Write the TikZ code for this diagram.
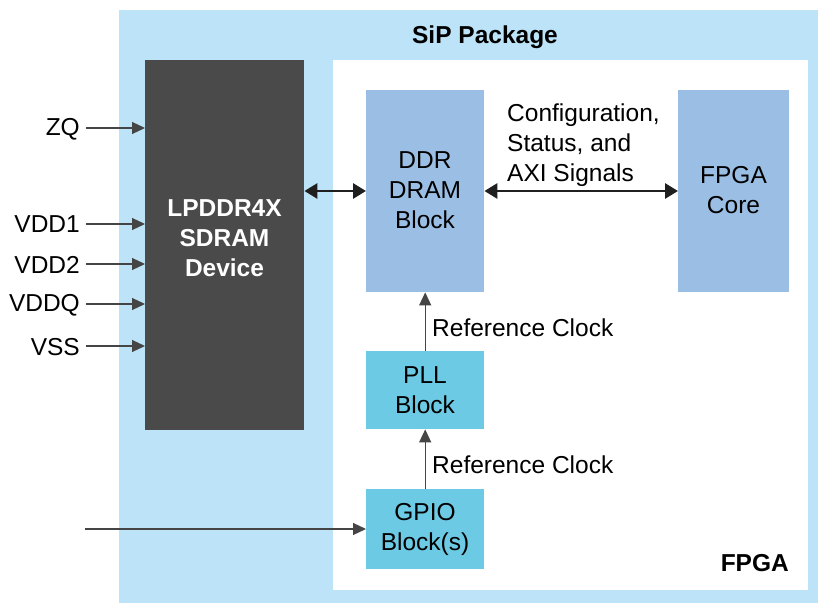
\documentclass[tikz,border=0pt]{standalone}
\usepackage{fontspec}
\setmainfont{Liberation Sans}
\usetikzlibrary{arrows.meta}
\definecolor{sipblue}{HTML}{BDE3F8}
\definecolor{darkblk}{HTML}{4A4A4A}
\definecolor{ddrblue}{HTML}{9BBFE4}
\definecolor{pllblue}{HTML}{6DCAE4}
\definecolor{linegray}{HTML}{454545}
\begin{document}
\begin{tikzpicture}[x=1pt,y=-1pt,
  every node/.style={font=\fontsize{24.5}{30}\selectfont, inner sep=0pt},
  blk/.style={draw=none, minimum width=118pt, align=center},
  sig/.style={draw=linegray, line width=1.2pt, -{Triangle[length=13pt,width=12pt]}},
  bus/.style={draw=black!88, line width=2.8pt, {Triangle[length=13pt,width=15pt]}-{Triangle[length=13pt,width=15pt]}},
  lbl/.style={anchor=east, align=right}]
\useasboundingbox (0,0) rectangle (819,604);
% SiP package
\fill[sipblue] (119,10) rectangle (818,603);
\node[font=\fontsize{24.5}{30}\selectfont\bfseries] (sip) at (485,37) {SiP Package};
% FPGA
\fill[white] (333,60) rectangle (808,590);
\node[font=\fontsize{24.5}{30}\selectfont\bfseries, anchor=east] (fpga) at (789,563) {FPGA};
% LPDDR
\node[fill=darkblk, minimum width=159pt, minimum height=370pt, anchor=north west] (lp) at (145,60) {};
\node[text=white, align=center, font=\fontsize{24.5}{30}\selectfont\bfseries] (lpt) at (224.5,238) {LPDDR4X\\SDRAM\\Device};
% DDR
\node[blk, fill=ddrblue, minimum height=202pt, anchor=north west] (ddr) at (366,90) {};
\node[align=center] (ddrt) at (425,190) {DDR\\DRAM\\Block};
% FPGA core
\node[fill=ddrblue, minimum width=111pt, minimum height=202pt, anchor=north west] (core) at (678,90) {};
\node[align=center] (coret) at (733.5,190) {FPGA\\Core};
% PLL
\node[blk, fill=pllblue, minimum height=78pt, anchor=north west] (pll) at (366,351) {};
\node[align=center] (pllt) at (425,390) {PLL\\Block};
% GPIO
\node[blk, fill=pllblue, minimum height=80pt, anchor=north west] (gpio) at (366,489) {};
\node[align=center] (gpiot) at (425,529) {GPIO\\Block(s)};
% pin labels
\node[lbl] (zq) at (80,129) {ZQ};
\node[lbl] (v1) at (80,224) {VDD1};
\node[lbl] (v2) at (80,265) {VDD2};
\node[lbl] (vq) at (80,305) {VDDQ};
\node[lbl] (vs) at (80,347) {VSS};
\coordinate (gin) at (85,529);
\draw[sig] (86,128) -- (lp.west |- 0,128);
\draw[sig] (86,224) -- (lp.west |- 0,224);
\draw[sig] (86,264) -- (lp.west |- 0,264);
\draw[sig] (86,304) -- (lp.west |- 0,304);
\draw[sig] (86,346) -- (lp.west |- 0,346);
\draw[sig] (gin) -- (gpio.west |- gin);
% buses
\draw[bus] (lp.east |- 0,191) -- (ddr.west |- 0,191);
\draw[bus] (ddr.east |- 0,191) -- (core.west |- 0,191);
\node[anchor=west, align=left] (cfg) at (507,145) {Configuration,\\Status, and\\AXI Signals};
% clocks
\draw[sig] (pll.north) -- (ddr.south);
\draw[sig] (gpio.north) -- (pll.south);
\node[anchor=west] (rc1) at (432,328) {Reference Clock};
\node[anchor=west] (rc2) at (432,465) {Reference Clock};
\end{tikzpicture}
\end{document}
